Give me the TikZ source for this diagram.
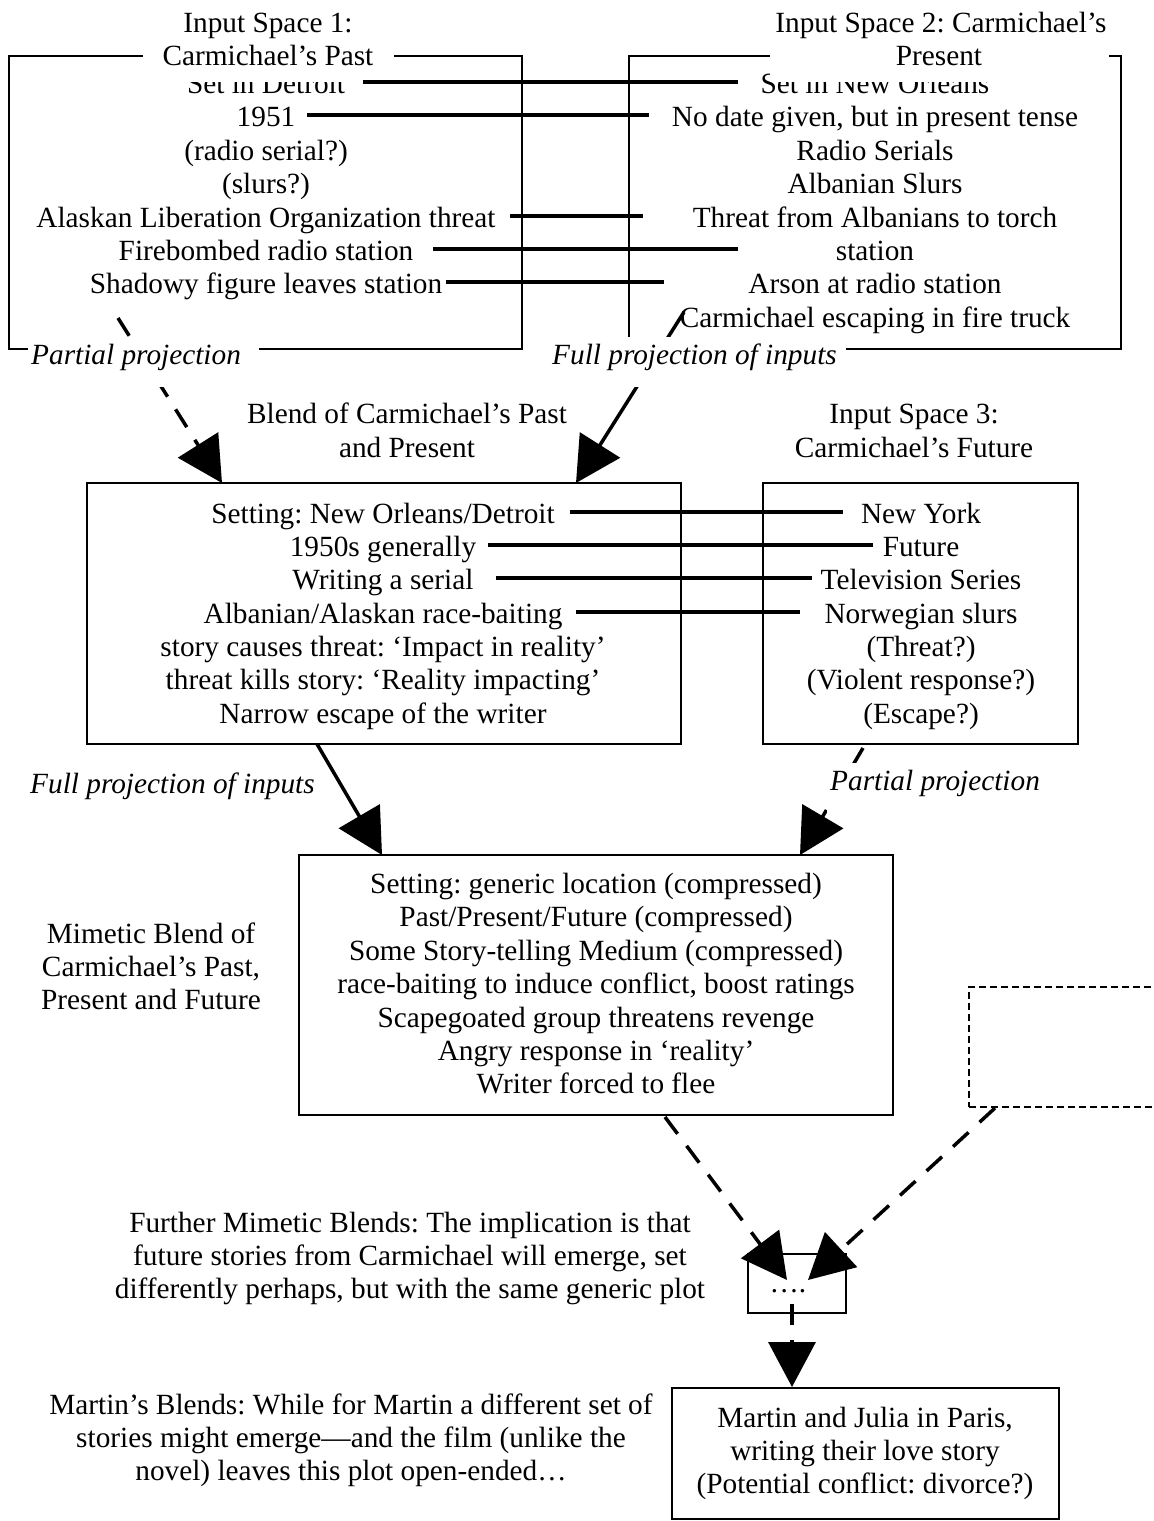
\documentclass[tikz,border=0pt]{standalone}
\usepackage{fontspec}
\setmainfont{Liberation Serif}
\usetikzlibrary{arrows.meta}
\newcommand\bodyfont{\fontsize{29.3pt}{33.4pt}\selectfont\frenchspacing}

\begin{document}
\begin{tikzpicture}[x=1pt,y=-1pt,
		frame/.style = {draw,line width=1.4pt,inner sep=0pt},
		entry/.style = {font=\bodyfont,inner sep=0pt,anchor=base,text height=25pt,text depth=2pt},
		cover/.style = {entry,fill=white,text depth=17pt},
		projlabel/.style = {font=\bodyfont\itshape,fill=white,inner xsep=3pt,inner ysep=0pt,anchor=base west,
			text height=27pt,text depth=23pt},
		link/.style = {line width=4pt},
		full/.style = {line width=3.5pt,-{Triangle[length=45pt,width=47pt]}},
		partial/.style = {full,dash pattern=on 21pt off 15pt}]
		\useasboundingbox (0,0) rectangle (1154,1521);
		% boxes
		\node[frame,minimum width=513pt,minimum height=293pt] (space1) at (265.5,202.5) {};
		\node[frame,minimum width=492pt,minimum height=293pt] (space2) at (875,202.5) {};
		\node[frame,minimum width=594pt,minimum height=261pt] (blend) at (384,613.5) {};
		\node[frame,minimum width=315pt,minimum height=261pt] (space3) at (920.5,613.5) {};
		\node[frame,minimum width=594pt,minimum height=260pt] (mimetic) at (596,985) {};
		\node[frame,minimum width=98pt,minimum height=59pt] (further) at (797,1283.5) {};
		\node[frame,minimum width=387pt,minimum height=131pt] (martin) at (865.5,1453.5) {};
		\node[draw,line width=2.6pt,dash pattern=on 7pt off 4pt,inner sep=0pt,
			minimum width=240pt,minimum height=120pt] (other) at (1089,1047) {};
		% box contents
		\foreach \t [count=\i] in {Set in Detroit,%
			1951,%
			(radio serial?),%
			(slurs?),%
			Alaskan Liberation Organization threat,%
			Firebombed radio station,%
			Shadowy figure leaves station}
			\node[entry] (past\i) at (266,60.1+33.4*\i) {\t};
		\foreach \t [count=\i] in {Set in New Orleans,%
			{No date given, but in present tense},%
			Radio Serials,%
			Albanian Slurs,%
			Threat from Albanians to torch,%
			station,%
			Arson at radio station,%
			Carmichael escaping in fire truck}
			\node[entry] (pres\i) at (875,60.1+33.4*\i) {\t};
		\foreach \t [count=\i] in {Setting: New Orleans/Detroit,%
			1950s generally,%
			Writing a serial,%
			Albanian/Alaskan race-baiting,%
			story causes threat: ‘Impact in reality’,%
			threat kills story: ‘Reality impacting’,%
			Narrow escape of the writer}
			\node[entry] (bl\i) at (383,489.9+33.3*\i) {\t};
		\foreach \t [count=\i] in {New York,%
			Future,%
			Television Series,%
			Norwegian slurs,%
			(Threat?),%
			(Violent response?),%
			(Escape?)}
			\node[entry] (fut\i) at (921,489.9+33.3*\i) {\t};
		\foreach \t [count=\i] in {Setting: generic location (compressed),%
			Past/Present/Future (compressed),%
			Some Story-telling Medium (compressed),%
			{race-baiting to induce conflict, boost ratings},%
			Scapegoated group threatens revenge,%
			Angry response in ‘reality’,%
			Writer forced to flee}
			\node[entry] (mim\i) at (596,860.1+33.4*\i) {\t};
		\node[entry] (dots) at (788,1292) {….};
		\foreach \t [count=\i] in {{Martin and Julia in Paris,},%
			writing their love story,%
			(Potential conflict: divorce?)}
			\node[entry] (mj\i) at (865,1393.6+33.4*\i) {\t};
		% titles and side texts
		\node[entry] (title1a) at (268,32) {Input Space 1:};
		\node[cover,minimum width=251pt] (title1b) at (268,65) {Carmichael’s Past};
		\node[entry] (title2a) at (941,32) {Input Space 2: Carmichael’s};
		\node[cover,minimum width=339pt] (title2b) at (939,65) {Present};
		\node[entry] (blendtitle1) at (407,423) {Blend of Carmichael’s Past};
		\node[entry] (blendtitle2) at (407,457) {and Present};
		\node[entry] (title3a) at (914,423) {Input Space 3:};
		\node[entry] (title3b) at (914,457) {Carmichael’s Future};
		\foreach \t [count=\i] in {Mimetic Blend of,%
			{Carmichael’s Past,},%
			Present and Future}
			\node[entry] (mimtitle\i) at (151,909.6+33.4*\i) {\t};
		\foreach \t [count=\i] in {Further Mimetic Blends: The implication is that,%
			{future stories from Carmichael will emerge, set},%
			{differently perhaps, but with the same generic plot}}
			\node[entry] (furthertext\i) at (410,1198.6+33.4*\i) {\t};
		\foreach \t [count=\i] in {Martin’s Blends: While for Martin a different set of,%
			stories might emerge—and the film (unlike the,%
			novel) leaves this plot open-ended…}
			\node[entry] (martintext\i) at (351,1380.6+33.4*\i) {\t};
		% cross-space links
		\draw[link,shorten <=18pt,shorten >=22pt] (past1.east) -- (pres1.west);
		\draw[link,shorten <=11pt,shorten >=23pt] (past2.east) -- (pres2.west);
		\draw[link,shorten <=14pt,shorten >=50pt] (past5.east) -- (pres5.west);
		\draw[link,shorten <=20pt,shorten >=98pt] (past6.east) -- (pres6.west);
		\draw[link,shorten <=4pt,shorten >=84pt] (past7.east) -- (pres7.west);
		\draw[link,shorten <=15pt,shorten >=18pt] (bl1.east) -- (fut1.west);
		\draw[link,shorten <=12pt,shorten >=10pt] (bl2.east) -- (fut2.west);
		\draw[link,shorten <=22pt,shorten >=9pt] (bl3.east) -- (fut3.west);
		\draw[link,shorten <=13pt,shorten >=24pt] (bl4.east) -- (fut4.west);
		% projections
		\coordinate (pastout) at (118,318);
		\coordinate (blendinL) at (222,483);
		\coordinate (presout) at (684,312);
		\coordinate (blendinR) at (576,483);
		\coordinate (blendout) at (317,744);
		\coordinate (miminL) at (382,855);
		\coordinate (futout) at (863,748);
		\coordinate (miminR) at (800,855);
		\coordinate (mimout) at (665,1117);
		\coordinate (furtherinL) at (787,1280);
		\coordinate (otherout) at (995,1108);
		\coordinate (furtherinR) at (808,1280);
		\coordinate (furtherout) at (792,1304);
		\coordinate (martinin) at (792,1387);
		\draw[partial] (pastout) -- (blendinL);
		\draw[full] (presout) -- (blendinR);
		\draw[full] (blendout) -- (miminL);
		\draw[partial] (futout) -- (miminR);
		\draw[partial] (mimout) -- (furtherinL);
		\draw[partial] (otherout) -- (furtherinR);
		\draw[partial] (furtherout) -- (martinin);
		\node[projlabel] (proj1) at (28,364) {\makebox[225pt][l]{Partial projection}};
		\node[projlabel] (proj2) at (549,364) {\makebox[291pt][l]{Full projection of inputs}};
		\node[projlabel] (proj3) at (27,793) {Full projection of inputs};
		\node[projlabel] (proj4) at (827,790) {Partial projection};
\end{tikzpicture}
\end{document}
